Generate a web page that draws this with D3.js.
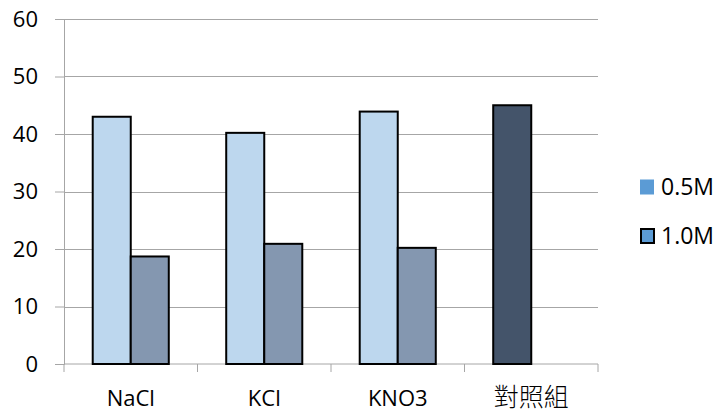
<!DOCTYPE html>
<html>
<head>
<meta charset="utf-8">
<script src="https://cdn.jsdelivr.net/npm/d3@7/dist/d3.min.js"></script>
<style>
  html, body { margin: 0; padding: 0; background: #fff; }
  svg { display: block; font-family: "Open Sans", "Noto Sans", sans-serif; }
</style>
</head>
<body>
<svg id="chart" width="719" height="417"></svg>
<script>
// Salt solutions and concentrations
const categories = ["NaCl", "KCl", "KNO3", "對照組"];
const seriesNames = ["0.5M", "1.0M"];
const values05 = [43.0, 40.2, 43.9, 45.0];
const values10 = [18.7, 20.9, 20.2, null];
const yTicks = [0, 10, 20, 30, 40, 50, 60];

const barFill = ["#BDD7EE", "#8497B0"];
const controlFill = "#44546A";
const legendFill = "#5B9BD5";

const margin = { left: 64, right: 121, top: 19, bottom: 53 };
const width = 719, height = 417;
const svg = d3.select("#chart");

const x = d3.scaleBand().domain(categories)
  .range([margin.left, width - margin.right]).paddingInner(0).paddingOuter(0);
const x1 = d3.scaleBand().domain(seriesNames)
  .range([0, x.bandwidth()]).paddingInner(0).paddingOuter(0.755);
const y = d3.scaleLinear().domain([0, 60]).range([height - margin.bottom, margin.top]);

const grid = "#A6A6A6";

// Horizontal gridlines and y labels
const yAxis = d3.axisLeft(y).tickValues(yTicks).tickSize(9).tickPadding(17);
const gy = svg.append("g").attr("transform", `translate(${margin.left},0)`).call(yAxis);
gy.select(".domain").attr("stroke", grid);
gy.selectAll(".tick line").attr("stroke", grid);
gy.selectAll(".tick text").attr("font-size", 22).attr("fill", "#000")
  .attr("font-family", '"Open Sans", sans-serif');
svg.append("g").selectAll("line").data(yTicks.filter(d => d > 0)).join("line")
  .attr("x1", margin.left).attr("x2", width - margin.right)
  .attr("y1", d => Math.round(y(d)) + 0.5).attr("y2", d => Math.round(y(d)) + 0.5)
  .attr("stroke", grid).attr("stroke-width", 1);

// Category axis with boundary ticks
const baseY = y(0);
svg.append("line").attr("x1", margin.left).attr("x2", width - margin.right)
  .attr("y1", baseY).attr("y2", baseY).attr("stroke", grid);
const bounds = categories.map(c => x(c)).concat([x(categories[categories.length - 1]) + x.bandwidth()]);
svg.append("g").selectAll("line").data(bounds).join("line")
  .attr("x1", d => d).attr("x2", d => d)
  .attr("y1", baseY).attr("y2", baseY + 8).attr("stroke", grid);
const isCJK = d => /[\u4e00-\u9fff]/.test(d);
svg.append("g").selectAll("text").data(categories).join("text")
  .attr("x", d => x(d) + x.bandwidth() / 2)
  .attr("y", baseY + 42)
  .attr("text-anchor", "middle")
  .attr("font-size", d => isCJK(d) ? 25 : 22)
  .attr("font-family", d => isCJK(d) ? '"Noto Sans CJK TC", sans-serif' : '"Open Sans", sans-serif')
  .attr("font-weight", d => isCJK(d) ? 300 : 400)
  .attr("fill", "#000")
  .text(d => d);

// Bars; the control group has a single bar in its own colour
const rows = [];
categories.forEach((c, i) => {
  [values05[i], values10[i]].forEach((v, j) => {
    if (v == null) return;
    const isControl = values10[i] == null;
    rows.push({ c, s: seriesNames[j], v, fill: isControl ? controlFill : barFill[j] });
  });
});
svg.append("g").selectAll("rect").data(rows).join("rect")
  .attr("x", d => x(d.c) + x1(d.s))
  .attr("y", d => y(d.v))
  .attr("width", x1.bandwidth())
  .attr("height", d => y(0) - y(d.v))
  .attr("fill", d => d.fill)
  .attr("stroke", "#000").attr("stroke-width", 2);

// Legend
const legend = svg.append("g");
const legendY = [187, 236];
seriesNames.forEach((name, i) => {
  const g = legend.append("g").attr("transform", `translate(640,${legendY[i]})`);
  g.append("rect").attr("x", i ? 1 : 0).attr("y", i ? -7 : -7.5)
    .attr("width", i ? 13 : 14).attr("height", i ? 14 : 15)
    .attr("fill", legendFill)
    .attr("stroke", i ? "#000" : "none").attr("stroke-width", 2);
  g.append("text").attr("x", 21).attr("y", 0).attr("dy", "0.35em")
    .attr("font-size", 23).attr("fill", "#000").text(name);
});
</script>
</body>
</html>
